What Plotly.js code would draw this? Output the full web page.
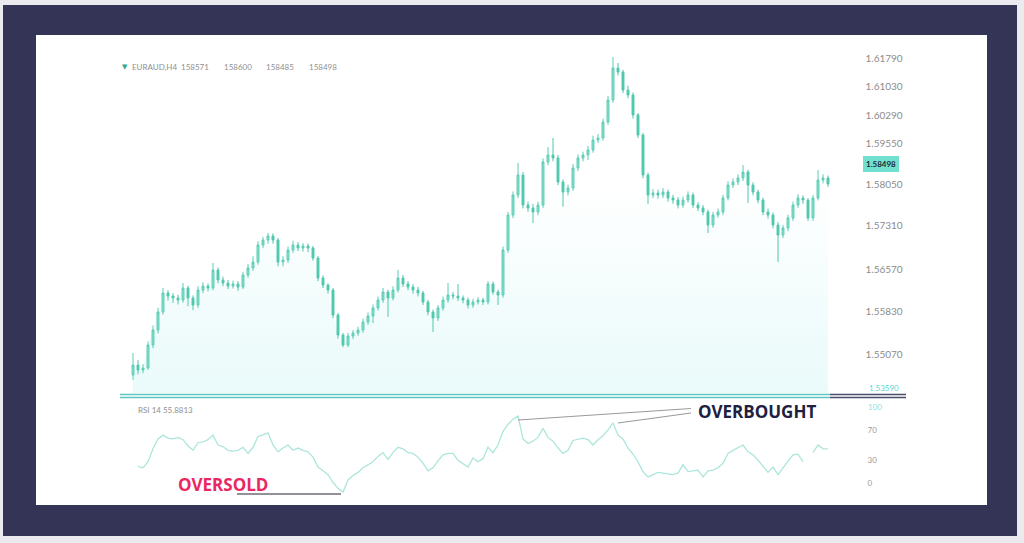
<!DOCTYPE html>
<html>
<head>
<meta charset="utf-8">
<script src="https://cdn.plot.ly/plotly-3.0.1.min.js"></script>
<style>html,body{margin:0;padding:0;background:#ebebef;}#chart{width:1024px;height:543px;}</style>
</head>
<body>
<div id="chart"></div>
<script>
// ---- data (EURAUD H4) ----
const openP = [1.54688,1.54864,1.54776,1.54812,1.55216,1.55480,1.55797,1.56132,1.56079,1.56044,
1.56008,1.56220,1.56044,1.55920,1.56184,1.56255,1.56220,1.56536,1.56360,1.56308,
1.56255,1.56290,1.56237,1.56448,1.56572,1.56677,1.56976,1.57064,1.57135,1.57064,
1.56677,1.56712,1.56888,1.56976,1.56924,1.56959,1.56924,1.56748,1.56396,1.56272,
1.56184,1.55744,1.55392,1.55216,1.55375,1.55428,1.55480,1.55621,1.55727,1.55868,
1.56008,1.56149,1.56044,1.56184,1.56396,1.56290,1.56237,1.56184,1.56132,1.55973,
1.55797,1.55692,1.55868,1.56008,1.56096,1.56079,1.56044,1.56008,1.55920,1.55973,
1.56008,1.55973,1.56290,1.56149,1.56096,1.56888,1.57504,1.57856,1.58208,1.57680,
1.57628,1.57557,1.57680,1.58437,1.58560,1.58508,1.58085,1.57909,1.57980,1.58332,
1.58508,1.58560,1.58648,1.58824,1.58860,1.59141,1.59528,1.60092,1.60021,1.59704,
1.59616,1.59264,1.58912,1.58208,1.57856,1.57892,1.57856,1.57909,1.57804,1.57768,
1.57680,1.57768,1.57856,1.57680,1.57628,1.57557,1.57328,1.57504,1.57557,1.57804,
1.58032,1.58085,1.58156,1.58261,1.58032,1.57909,1.57768,1.57557,1.57504,1.57328,
1.57152,1.57276,1.57452,1.57680,1.57804,1.57768,1.57452,1.57804,1.58120,1.58156];
const closeP = [1.54864,1.54776,1.54812,1.55216,1.55480,1.55797,1.56132,1.56079,1.56044,1.56008,
1.56220,1.56044,1.55920,1.56184,1.56255,1.56220,1.56536,1.56360,1.56308,1.56255,
1.56290,1.56237,1.56448,1.56572,1.56677,1.56976,1.57064,1.57135,1.57064,1.56677,
1.56712,1.56888,1.56976,1.56924,1.56959,1.56924,1.56748,1.56396,1.56272,1.56184,
1.55744,1.55392,1.55216,1.55375,1.55428,1.55480,1.55621,1.55727,1.55868,1.56008,
1.56149,1.56044,1.56184,1.56396,1.56290,1.56237,1.56184,1.56132,1.55973,1.55797,
1.55692,1.55868,1.56008,1.56096,1.56079,1.56044,1.56008,1.55920,1.55973,1.56008,
1.55973,1.56290,1.56149,1.56096,1.56888,1.57504,1.57856,1.58208,1.57680,1.57628,
1.57557,1.57680,1.58437,1.58560,1.58508,1.58085,1.57909,1.57980,1.58332,1.58508,
1.58560,1.58648,1.58824,1.58860,1.59141,1.59528,1.60092,1.60021,1.59704,1.59616,
1.59264,1.58912,1.58208,1.57856,1.57892,1.57856,1.57909,1.57804,1.57768,1.57680,
1.57768,1.57856,1.57680,1.57628,1.57557,1.57328,1.57504,1.57557,1.57804,1.58032,
1.58085,1.58156,1.58261,1.58032,1.57909,1.57768,1.57557,1.57504,1.57328,1.57152,
1.57276,1.57452,1.57680,1.57804,1.57768,1.57452,1.57804,1.58120,1.58156,1.58050];
const highP = [1.55076,1.54950,1.54880,1.55280,1.55560,1.55870,1.56220,1.56180,1.56130,1.56100,
1.56308,1.56260,1.56090,1.56250,1.56320,1.56300,1.56660,1.56580,1.56420,1.56360,
1.56350,1.56340,1.56500,1.56640,1.56780,1.57040,1.57120,1.57188,1.57180,1.57100,
1.56780,1.56950,1.57050,1.57030,1.57010,1.57000,1.56960,1.56780,1.56440,1.56300,
1.56220,1.55780,1.55430,1.55430,1.55480,1.55540,1.55680,1.55790,1.55930,1.56070,
1.56220,1.56190,1.56250,1.56536,1.56450,1.56340,1.56290,1.56240,1.56170,1.56010,
1.55840,1.55920,1.56070,1.56308,1.56150,1.56290,1.56090,1.56050,1.56030,1.56060,
1.56050,1.56340,1.56330,1.56190,1.56950,1.57560,1.57920,1.58420,1.58260,1.57740,
1.57700,1.57740,1.58500,1.58700,1.58860,1.58560,1.58130,1.58040,1.58400,1.58570,
1.58620,1.58720,1.58900,1.58930,1.59200,1.59600,1.60285,1.60180,1.60060,1.59780,
1.59660,1.59300,1.58950,1.58250,1.57960,1.57950,1.57980,1.57950,1.57860,1.57820,
1.57830,1.57920,1.57900,1.57730,1.57680,1.57600,1.57560,1.57620,1.57860,1.58100,
1.58150,1.58220,1.58384,1.58300,1.58080,1.57950,1.57810,1.57620,1.57550,1.57380,
1.57330,1.57510,1.57740,1.57870,1.57850,1.57800,1.57860,1.58296,1.58220,1.58200];
const lowP = [1.54600,1.54700,1.54720,1.54780,1.55160,1.55420,1.55750,1.56000,1.55960,1.55930,
1.55960,1.55900,1.55830,1.55870,1.56130,1.56160,1.56180,1.56300,1.56250,1.56200,
1.56210,1.56170,1.56200,1.56400,1.56520,1.56630,1.56920,1.57000,1.57000,1.56600,
1.56600,1.56660,1.56840,1.56870,1.56860,1.56850,1.56700,1.56340,1.56220,1.56120,
1.55690,1.55330,1.55181,1.55180,1.55320,1.55380,1.55430,1.55570,1.55600,1.55820,
1.55960,1.55710,1.56000,1.56140,1.56240,1.56180,1.56120,1.56070,1.55920,1.55740,
1.55445,1.55640,1.55820,1.55960,1.56020,1.55990,1.55950,1.55860,1.55870,1.55930,
1.55920,1.55930,1.56100,1.55920,1.56050,1.56840,1.57450,1.57800,1.57620,1.57560,
1.57364,1.57500,1.57630,1.58380,1.58450,1.58030,1.57650,1.57850,1.57930,1.58280,
1.58450,1.58470,1.58600,1.58770,1.58810,1.59090,1.59480,1.59960,1.59650,1.59560,
1.59200,1.58860,1.58150,1.57700,1.57800,1.57790,1.57800,1.57740,1.57700,1.57620,
1.57630,1.57720,1.57630,1.57570,1.57500,1.57188,1.57280,1.57460,1.57500,1.57760,
1.57980,1.58030,1.58100,1.57716,1.57850,1.57710,1.57500,1.57440,1.57270,1.56677,
1.57100,1.57220,1.57400,1.57630,1.57700,1.57400,1.57400,1.57760,1.58060,1.58000];
const rsi14 = [null,22,20,28,45,58,63,59,58,60,
57,49,43,53,54,57,63,50,48,43,
42,43,47,39,47,61,63,66,50,41,
46,50,43,46,43,41,34,21,16,11,
1,-7,-12,4,10,14,20,24,28,35,
40,31,40,47,45,40,39,34,26,16,
20,29,37,39,39,30,25,21,33,28,
32,47,40,50,68,77,84,88,58,52,
55,60,72,60,55,46,39,43,56,58,
59,57,50,57,62,70,79,63,58,46,
38,28,15,8,11,14,13,12,11,13,
24,15,16,17,8,16,17,20,26,39,
43,47,50,41,37,30,22,14,21,11,
20,28,37,38,28,null,40,50,45,45];
const priceTickText = ['1.61790','1.61030','1.60290','1.59550','1.58050','1.57310','1.56570','1.55830','1.55070'];
const priceTickVals = [1.60250,1.59757,1.59247,1.58754,1.58050,1.57311,1.56554,1.55815,1.55058];
const rsiTickVals = [0,30,70];
const rsiTickText = ['0','30','70'];
const header = {symbol:'EURAUD,H4', open:'158571', high:'158600', low:'158485', close:'158498'};
const lastPriceLabel = '1.58498';
const bottomPriceLabel = '1.53590';
const rsiHeader = 'RSI 14 55.8813';
const rsiTop = '100';

// ---- layout helpers (pixel -> paper) ----
const W = 1024, H = 543;
const px = v => v / W;
const py = v => 1 - v / H;
const idx = closeP.map((_, i) => i);

const teal = '#5acdb5';
const yMainRange = [1.54372, 1.60584];

const traces = [
  {
    type: 'scatter', x: idx, y: closeP, mode: 'lines',
    line: {width: 0, color: 'rgba(0,0,0,0)'},
    fill: 'tozeroy',
    fillgradient: {type: 'vertical', start: yMainRange[0], stop: 1.5800,
      colorscale: [[0, 'rgb(234,250,250)'], [1, 'rgb(255,255,255)']]},
    hoverinfo: 'skip', showlegend: false, xaxis: 'x', yaxis: 'y'
  },
  {
    type: 'candlestick', x: idx, open: openP, high: highP, low: lowP, close: closeP,
    increasing: {line: {color: teal, width: 1}, fillcolor: '#8bdccb'},
    decreasing: {line: {color: '#4fc8ae', width: 1}, fillcolor: '#4fc8ae'},
    whiskerwidth: 0, showlegend: false, xaxis: 'x', yaxis: 'y3'
  },
  {
    type: 'scatter', x: idx, y: rsi14, mode: 'lines',
    line: {color: '#ace6dc', width: 1.3}, connectgaps: false,
    showlegend: false, xaxis: 'x2', yaxis: 'y2'
  }
];

const tickFont = {family: 'Lato', size: 10, color: '#8c8c8c'};
const xDom = [px(130.5), px(830.5)];
const xRange = [-0.5, closeP.length - 0.5];
const mainDom = [py(393), py(40)];

const shapes = [
  {type: 'rect', xref: 'paper', yref: 'paper', x0: px(3), x1: px(1017), y0: py(536), y1: py(5),
   fillcolor: '#343457', line: {width: 0}, layer: 'below'},
  {type: 'rect', xref: 'paper', yref: 'paper', x0: px(36), x1: px(987), y0: py(505), y1: py(35),
   fillcolor: '#ffffff', line: {width: 0}, layer: 'below'},
  {type: 'line', xref: 'paper', yref: 'paper', x0: px(120), x1: px(830), y0: py(394.5), y1: py(394.5),
   line: {color: '#5cc7c0', width: 1.3}},
  {type: 'line', xref: 'paper', yref: 'paper', x0: px(120), x1: px(830), y0: py(397.5), y1: py(397.5),
   line: {color: '#5cc7c0', width: 1.3}},
  {type: 'line', xref: 'paper', yref: 'paper', x0: px(830), x1: px(906), y0: py(394.5), y1: py(394.5),
   line: {color: '#4a4d68', width: 1.3}},
  {type: 'line', xref: 'paper', yref: 'paper', x0: px(830), x1: px(906), y0: py(397.5), y1: py(397.5),
   line: {color: '#4a4d68', width: 1.3}},
  {type: 'line', xref: 'paper', yref: 'paper', x0: px(518), x1: px(691), y0: py(420), y1: py(408.5),
   line: {color: '#9a9a9a', width: 1.2}},
  {type: 'line', xref: 'paper', yref: 'paper', x0: px(618), x1: px(691), y0: py(423), y1: py(413),
   line: {color: '#9a9a9a', width: 1.2}},
  {type: 'line', xref: 'paper', yref: 'paper', x0: px(237), x1: px(341), y0: py(494), y1: py(494),
   line: {color: '#6c6c74', width: 1.5}}
];

const smallGray = {family: 'Lato', size: 8, color: '#8f8f8f'};
const annotations = [
  {xref: 'paper', yref: 'paper', x: px(120), y: py(67), xanchor: 'left', yanchor: 'middle', showarrow: false,
   text: '▼', font: {family: 'DejaVu Sans', size: 7, color: '#2fa88e'}},
  {xref: 'paper', yref: 'paper', x: px(130), y: py(67), xanchor: 'left', yanchor: 'middle', showarrow: false,
   text: header.symbol, font: smallGray},
  {xref: 'paper', yref: 'paper', x: px(179), y: py(67), xanchor: 'left', yanchor: 'middle', showarrow: false,
   text: header.open, font: smallGray},
  {xref: 'paper', yref: 'paper', x: px(222), y: py(67), xanchor: 'left', yanchor: 'middle', showarrow: false,
   text: header.high, font: smallGray},
  {xref: 'paper', yref: 'paper', x: px(264), y: py(67), xanchor: 'left', yanchor: 'middle', showarrow: false,
   text: header.low, font: smallGray},
  {xref: 'paper', yref: 'paper', x: px(307), y: py(67), xanchor: 'left', yanchor: 'middle', showarrow: false,
   text: header.close, font: smallGray},
  {xref: 'paper', yref: 'paper', x: px(136), y: py(410), xanchor: 'left', yanchor: 'middle', showarrow: false,
   text: rsiHeader, font: smallGray},
  {xref: 'paper', yref: 'paper', x: px(881), y: py(163.5), xanchor: 'center', yanchor: 'middle', showarrow: false,
   text: '<b>' + lastPriceLabel + '</b>', font: {family: 'Lato', size: 8, color: '#1b2b33'},
   bgcolor: '#72e0cf', borderpad: 3, borderwidth: 0},
  {xref: 'paper', yref: 'paper', x: px(867), y: py(388), xanchor: 'left', yanchor: 'middle', showarrow: false,
   text: bottomPriceLabel, font: {family: 'Lato', size: 8, color: '#5fd6cf'}},
  {xref: 'paper', yref: 'paper', x: px(866), y: py(407), xanchor: 'left', yanchor: 'middle', showarrow: false,
   text: rsiTop, font: {family: 'Lato', size: 8, color: '#8fe3dc'}},
  {xref: 'paper', yref: 'paper', x: px(757), y: py(411), xanchor: 'center', yanchor: 'middle', showarrow: false,
   text: 'OVERBOUGHT', font: {family: 'Open Sans', size: 17, color: '#20203f', weight: 700}},
  {xref: 'paper', yref: 'paper', x: px(223), y: py(484), xanchor: 'center', yanchor: 'middle', showarrow: false,
   text: 'OVERSOLD', font: {family: 'Open Sans', size: 17, color: '#ea2761', weight: 700}}
];

const layout = {
  width: W, height: H,
  margin: {l: 0, r: 0, t: 0, b: 0},
  paper_bgcolor: '#ebebef', plot_bgcolor: 'rgba(0,0,0,0)',
  showlegend: false,
  boxgap: 0.45,
  xaxis: {domain: xDom, range: xRange, showgrid: false, zeroline: false, showline: false,
          showticklabels: false, ticks: '', rangeslider: {visible: false}, fixedrange: true},
  yaxis: {domain: mainDom, range: yMainRange, side: 'right',
          tickvals: priceTickVals, ticktext: priceTickText, tickfont: tickFont,
          showgrid: false, zeroline: false, showline: false, ticks: '', ticklabelstandoff: 34},
  yaxis3: {domain: mainDom, range: yMainRange, overlaying: 'y', side: 'right', anchor: 'x',
           showticklabels: false, showgrid: false, zeroline: false, showline: false, ticks: ''},
  xaxis2: {domain: xDom, range: xRange, anchor: 'y2', showgrid: false, zeroline: false,
           showline: false, showticklabels: false, ticks: ''},
  yaxis2: {domain: [py(495), py(402)], range: [-15.8, 106.6], anchor: 'x2', side: 'right',
           tickvals: rsiTickVals, ticktext: rsiTickText, tickfont: {family: 'Lato', size: 8, color: '#9a9a9a'},
           showgrid: false, zeroline: false, showline: false, ticks: '', ticklabelstandoff: 36},
  shapes: shapes,
  annotations: annotations
};

Plotly.newPlot('chart', traces, layout, {displayModeBar: false, staticPlot: true});
</script>
</body>
</html>
